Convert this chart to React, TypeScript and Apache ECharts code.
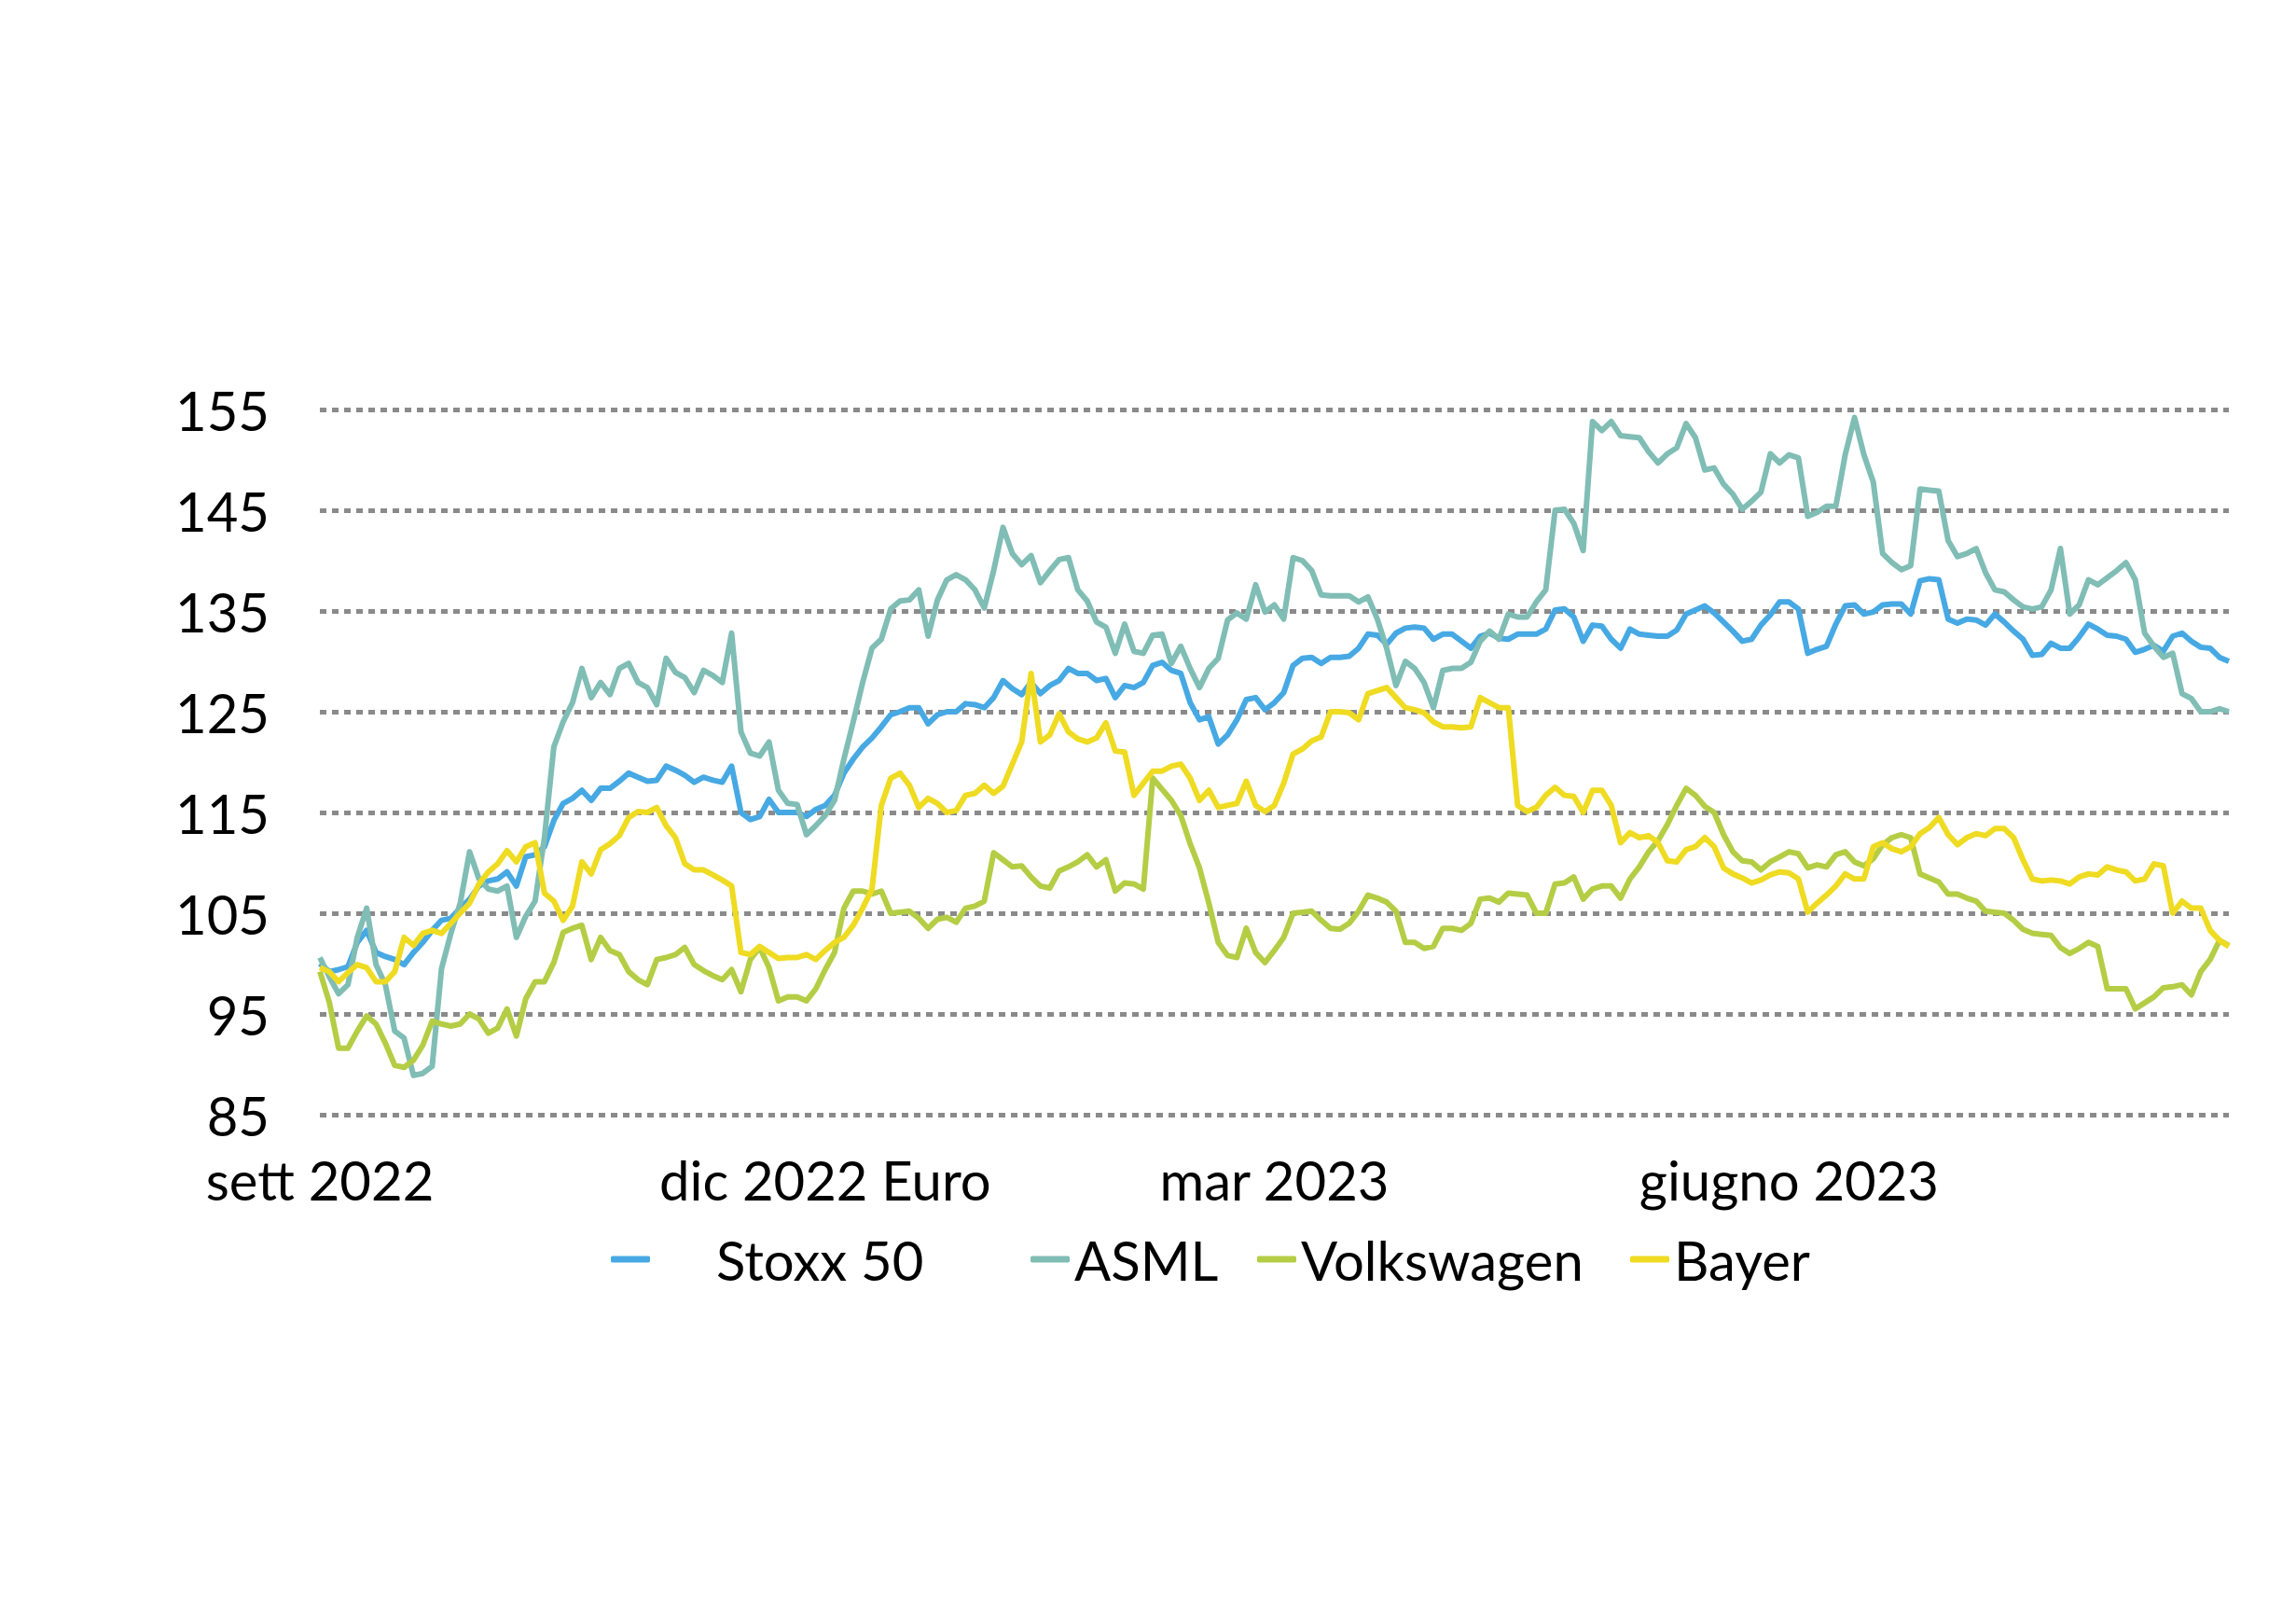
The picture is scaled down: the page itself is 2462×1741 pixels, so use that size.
import { useEffect, useRef } from "react";
import * as echarts from "echarts";

// Trading-day slots (about every two sessions), sett 2022 -> ago 2023
const categories: string[] = Array.from({ length: 205 }, (_, i) => `t${i}`);

const xTickLabels = ["sett 2022", "dic 2022 Euro", "mar 2023", "giugno 2023"];
const xTickIndex = [0, 54, 102, 157];

const seriesNames = ["Stoxx 50", "ASML", "Volkswagen", "Bayer"];
const seriesColors = ["#47A9E3", "#80BDB5", "#B5CD45", "#EFDB22"];

const stoxx = [
  100, 99.2, 99.4, 99.7, 102.1, 103.3, 101.1, 100.7, 100.4, 99.9, 101.1, 102.1, 103.3, 104.3, 104.5, 105.5, 106.4, 107.7, 108.2, 108.4, 109.1, 107.7, 110.6, 110.8, 111.6, 114.2, 115.9, 116.4, 117.2, 116.2, 117.4, 117.4, 118.1, 118.9, 118.5,
  118.1, 118.2, 119.6, 119.2, 118.7, 118.0, 118.5, 118.2, 118.0, 119.6, 115.0, 114.3, 114.6, 116.3, 115.0, 115.0, 115.0, 114.6, 115.3, 115.7, 116.7, 118.9, 120.3, 121.5, 122.4, 123.5, 124.7, 125.0, 125.4, 125.4, 123.8, 124.7, 125.0, 125.0, 125.8,
  125.7, 125.4, 126.4, 128.1, 127.3, 126.7, 127.9, 126.8, 127.6, 128.1, 129.3, 128.8, 128.8, 128.1, 128.3, 126.4, 127.6, 127.4, 127.9, 129.6, 129.9, 129.1, 128.8, 125.9, 124.2, 124.5, 121.8, 122.7, 124.2, 126.2, 126.4, 125.2, 125.9, 126.9, 129.6,
  130.3, 130.4, 129.8, 130.4, 130.4, 130.5, 131.3, 132.7, 132.6, 131.7, 132.8, 133.3, 133.4, 133.3, 132.2, 132.7, 132.7, 132.0, 131.3, 132.5, 132.8, 132.3, 132.2, 132.7, 132.7, 132.7, 133.2, 135.1, 135.2, 134.4, 132.0, 133.6, 133.5, 132.2, 131.3,
  133.2, 132.7, 132.6, 132.5, 132.5, 133.1, 134.7, 135.1, 135.5, 134.8, 133.9, 133.0, 132.0, 132.2, 133.6, 134.6, 135.9, 135.9, 135.2, 130.8, 131.2, 131.5, 133.7, 135.5, 135.6, 134.7, 134.9, 135.6, 135.7, 135.7, 134.7, 138.0, 138.2, 138.1, 134.2,
  133.8, 134.2, 134.1, 133.6, 134.7, 133.9, 133.0, 132.2, 130.6, 130.7, 131.8, 131.3, 131.3, 132.4, 133.7, 133.2, 132.6, 132.5, 132.2, 130.9, 131.2, 131.6, 131.0, 132.5, 132.8, 132.0, 131.4, 131.3, 130.4, 130.0,
];

const asml = [
  100.6, 98.7, 97.0, 97.9, 102.6, 105.5, 99.9, 97.9, 93.3, 92.6, 88.9, 89.1, 89.8, 99.5, 103.0, 106.0, 111.1, 108.4, 107.4, 107.2, 107.7, 102.6, 104.7, 106.2, 112.5, 121.5, 124.0, 125.9, 129.3, 126.4, 127.9, 126.7, 129.3, 129.8, 127.9,
  127.4, 125.7, 130.3, 128.9, 128.4, 126.9, 129.1, 128.6, 127.9, 132.8, 123.0, 120.9, 120.6, 122.0, 117.2, 115.9, 115.8, 112.8, 113.7, 114.7, 116.2, 120.3, 124.0, 127.9, 131.3, 132.2, 135.2, 136.0, 136.1, 137.1, 132.5, 136.1, 138.1, 138.6, 138.1,
  137.1, 135.3, 139.0, 143.3, 140.7, 139.6, 140.5, 137.8, 139.0, 140.1, 140.3, 137.1, 136.0, 133.9, 133.4, 130.8, 133.7, 131.0, 130.8, 132.6, 132.7, 129.8, 131.5, 129.3, 127.4, 129.3, 130.3, 134.1, 134.8, 134.2, 137.6, 134.9, 135.6, 134.2, 140.3,
  140.0, 139.0, 136.6, 136.5, 136.5, 136.5, 135.9, 136.4, 134.2, 131.3, 127.6, 130.0, 129.3, 127.9, 125.4, 129.1, 129.3, 129.3, 129.9, 132.0, 133.0, 132.2, 134.7, 134.4, 134.4, 135.9, 137.1, 145.0, 145.1, 143.7, 141.0, 153.8, 152.9, 153.8, 152.4,
  152.3, 152.2, 150.8, 149.7, 150.6, 151.2, 153.6, 152.2, 149.0, 149.2, 147.6, 146.6, 145.1, 145.9, 146.8, 150.6, 149.7, 150.5, 150.2, 144.4, 144.8, 145.4, 145.4, 150.5, 154.2, 150.5, 147.8, 140.7, 139.8, 139.1, 139.5, 147.1, 147.0, 146.9, 142.0,
  140.4, 140.7, 141.2, 138.8, 137.1, 136.9, 136.1, 135.4, 135.2, 135.4, 137.1, 141.2, 134.7, 135.6, 138.1, 137.6, 138.3, 139.0, 139.8, 138.1, 132.8, 131.5, 130.4, 130.8, 126.8, 126.3, 125.0, 125.0, 125.3, 125.0,
];

const volkswagen = [
  99.2, 96.2, 91.6, 91.6, 93.3, 94.8, 94.0, 92.1, 89.9, 89.7, 90.4, 91.9, 94.3, 94.0, 93.8, 94.0, 95.0, 94.5, 93.1, 93.6, 95.5, 92.8, 96.5, 98.2, 98.2, 100.1, 103.1, 103.5, 103.8, 100.4, 102.6, 101.3, 100.9, 99.2, 98.4,
  97.9, 100.4, 100.6, 100.9, 101.6, 99.9, 99.3, 98.8, 98.4, 99.4, 97.2, 100.4, 101.6, 99.6, 96.3, 96.7, 96.7, 96.3, 97.5, 99.4, 101.1, 105.5, 107.2, 107.2, 106.9, 107.2, 105.0, 105.1, 105.2, 104.5, 103.5, 104.4, 104.6, 104.1, 105.5,
  105.7, 106.2, 111.0, 110.3, 109.6, 109.7, 108.6, 107.7, 107.5, 109.2, 109.6, 110.1, 110.8, 109.6, 110.3, 107.2, 108.0, 107.9, 107.4, 118.4, 117.3, 116.2, 114.7, 111.9, 109.5, 106.0, 102.1, 100.8, 100.6, 103.5, 101.1, 100.1, 101.3, 102.6, 105.0,
  105.1, 105.2, 104.3, 103.5, 103.4, 104.0, 105.2, 106.8, 106.5, 106.1, 105.2, 102.1, 102.1, 101.5, 101.7, 103.5, 103.5, 103.3, 104.0, 106.4, 106.5, 106.1, 107.0, 106.9, 106.8, 105.0, 105.0, 107.9, 108.0, 108.6, 106.4, 107.4, 107.7, 107.7, 106.5,
  108.4, 109.6, 111.1, 112.2, 113.8, 115.7, 117.4, 116.7, 115.6, 115.0, 112.8, 111.1, 110.2, 110.1, 109.3, 110.1, 110.6, 111.1, 110.9, 109.5, 109.8, 109.6, 110.8, 111.1, 110.1, 109.7, 110.4, 111.8, 112.5, 112.8, 112.5, 108.9, 108.5, 108.1, 106.9,
  106.9, 106.5, 106.2, 105.2, 105.1, 105.0, 104.3, 103.4, 103.0, 102.9, 102.8, 101.6, 101.0, 101.5, 102.1, 101.7, 97.5, 97.5, 97.5, 95.5, 96.1, 96.7, 97.6, 97.7, 97.9, 96.9, 99.2, 100.4, 102.3, 101.8,
];

const bayer = [
  99.6, 99.2, 98.2, 99.1, 99.9, 99.6, 98.2, 98.2, 99.2, 102.6, 101.8, 103.0, 103.3, 103.0, 104.0, 105.0, 106.0, 107.9, 109.1, 109.9, 111.2, 110.1, 111.6, 112.0, 107.0, 106.2, 104.3, 105.7, 110.1, 108.9, 111.3, 111.9, 112.7, 114.5, 115.1,
  115.0, 115.5, 113.7, 112.5, 109.9, 109.3, 109.3, 108.8, 108.3, 107.7, 101.1, 100.9, 101.7, 101.1, 100.5, 100.6, 100.6, 100.9, 100.4, 101.3, 102.1, 102.6, 103.8, 105.5, 107.4, 115.7, 118.4, 118.9, 117.7, 115.5, 116.4, 115.9, 115.0, 115.2, 116.7,
  116.9, 117.7, 116.9, 117.6, 119.8, 122.0, 128.8, 122.0, 122.7, 124.8, 123.0, 122.3, 122.0, 122.4, 123.9, 121.1, 121.0, 116.7, 117.9, 119.1, 119.1, 119.6, 119.8, 118.4, 116.2, 117.2, 115.5, 115.7, 115.9, 118.1, 115.7, 115.1, 115.7, 117.9, 120.8,
  121.3, 122.1, 122.5, 125.0, 125.0, 124.9, 124.2, 126.8, 127.1, 127.4, 126.4, 125.4, 125.2, 124.9, 124.0, 123.5, 123.5, 123.4, 123.5, 126.4, 125.9, 125.4, 125.4, 115.7, 115.1, 115.5, 116.7, 117.5, 116.7, 116.6, 115.0, 117.2, 117.2, 115.7, 112.0,
  113.0, 112.5, 112.7, 112.0, 110.2, 110.1, 111.3, 111.6, 112.5, 111.6, 109.5, 108.9, 108.5, 108.0, 108.3, 108.8, 109.1, 109.0, 108.4, 105.1, 106.0, 106.8, 107.7, 108.9, 108.4, 108.4, 111.6, 112.0, 111.4, 111.1, 111.6, 112.9, 113.5, 114.5, 112.8,
  111.8, 112.5, 112.9, 112.7, 113.4, 113.4, 112.5, 110.3, 108.4, 108.2, 108.3, 108.2, 107.9, 108.6, 108.9, 108.8, 109.6, 109.3, 109.1, 108.2, 108.4, 109.9, 109.7, 105.0, 106.2, 105.5, 105.5, 103.3, 102.3, 101.7,
];

const seriesData = [stoxx, asml, volkswagen, bayer];

const FONT = "Lato";

export default function App() {
  const ref = useRef<HTMLDivElement>(null);

  useEffect(() => {
    if (!ref.current) return;
    const chart = echarts.init(ref.current, null, { renderer: "svg" });

    const legendLeft = [650, 1100, 1343, 1743];
    const legendTextPad = [66, 0, 0, 0];

    const option: any = {
      animation: false,
      backgroundColor: "#ffffff",
      textStyle: { fontFamily: FONT },
      grid: {
        left: 343,
        right: 72,
        top: 439,
        bottom: 546,
        containLabel: false,
        outerBoundsMode: "none",
      },
      xAxis: {
        type: "category",
        data: categories,
        boundaryGap: false,
        axisLine: { show: false },
        axisTick: { show: false },
        splitLine: { show: false },
        axisLabel: {
          interval: (index: number) => xTickIndex.indexOf(index) >= 0,
          formatter: (_v: string, index: number) => {
            const k = xTickIndex.indexOf(index);
            return k >= 0 ? xTickLabels[k] : "";
          },
          fontFamily: FONT,
          fontSize: 58,
          color: "#000000",
          margin: 40,
        },
      },
      yAxis: {
        type: "value",
        min: 85,
        max: 155,
        interval: 10,
        axisLine: { show: false },
        axisTick: { show: false },
        axisLabel: {
          fontFamily: FONT,
          fontSize: 58,
          color: "#000000",
          margin: 54,
        },
        splitLine: {
          show: true,
          lineStyle: { color: "#8a8a8a", width: 5, type: [7, 6] },
        },
      },
      legend: seriesNames.map((name, i) => ({
        data: [name],
        left: legendLeft[i],
        top: 1310,
        orient: "horizontal",
        icon: "roundRect",
        itemWidth: 42,
        itemHeight: 7,
        selectedMode: false,
        textStyle: {
          fontFamily: FONT,
          fontSize: 58,
          color: "#000000",
          lineHeight: 70,
          padding: [0, 0, 0, legendTextPad[i]],
        },
      })),
      series: seriesNames.map((name, i) => ({
        name,
        type: "line",
        data: seriesData[i],
        showSymbol: false,
        symbol: "none",
        smooth: false,
        color: seriesColors[i],
        itemStyle: { color: seriesColors[i] },
        lineStyle: { color: seriesColors[i], width: 6, join: "round" },
        z: 2 + i,
      })),
    };

    chart.setOption(option);
    return () => {
      chart.dispose();
    };
  }, []);

  return (
    <div
      ref={ref}
      style={{ position: "absolute", left: 0, top: 0, width: 2462, height: 1741 }}
    />
  );
}
